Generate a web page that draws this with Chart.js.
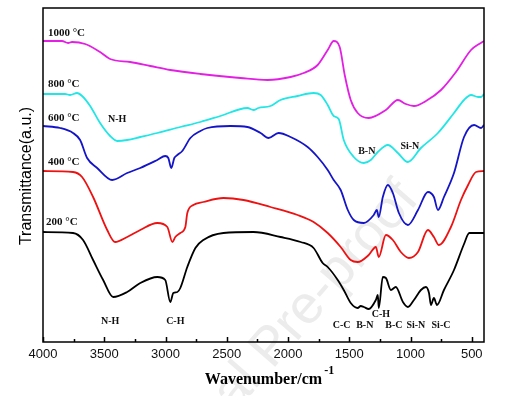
<!DOCTYPE html>
<html>
<head>
<meta charset="utf-8">
<script src="https://cdn.jsdelivr.net/npm/chart.js@4.4.0/dist/chart.umd.min.js"></script>
<style>
  html, body { margin: 0; padding: 0; background: #fff; }
</style>
</head>
<body>
<canvas id="ftir" width="505" height="396"></canvas>
<script>
// FTIR spectra, wavenumber in cm-1, transmittance in a.u. (curves stacked)
var wn200 = [4000,3755,3673,3591,3509,3427,3313,3206,3067,3002,2961,2936,2903,2879,2822,2756,2691,2527,2282,2061,1897,1791,1717,1676,1594,1545,1488,1431,1406,1381,1341,1283,1267,1259,1226,1201,1160,1120,1062,1021,972,915,874,849,833,809,784,727,645,563,520,400];
var t200  = [110,109,102,82,62,45,50,59,65,62,40,49,50,54,75,94,102,109,110,105,100,94,79,75,62,52,39,34,36,35,33,42,47,34,65,64,52,55,40,35,42,52,55,49,37,44,37,52,72,98,109,109];

var wn400 = [4000,3755,3681,3591,3476,3411,3313,3206,3067,2985,2944,2920,2879,2838,2822,2773,2691,2527,2363,2143,1922,1791,1676,1570,1488,1431,1341,1283,1259,1201,1144,1079,1013,939,858,809,768,670,588,530,465,400];
var t400  = [171,170,165,145,112,100,105,112,119,115,100,105,109,115,129,137,140,144,142,135,127,120,109,95,82,80,87,95,85,107,102,90,84,90,112,105,97,115,142,157,170,171];

var wn600 = [4000,3861,3755,3697,3640,3558,3435,3313,3206,3067,3002,2977,2953,2928,2903,2863,2797,2715,2658,2470,2331,2224,2159,2077,1979,1840,1758,1676,1627,1570,1512,1463,1381,1300,1275,1259,1226,1185,1144,1095,1021,939,858,809,776,727,645,563,481,424,400];
var t600  = [216,214,209,202,184,174,162,169,174,182,186,184,174,184,187,191,204,211,214,216,215,209,204,209,205,195,185,172,162,152,132,122,119,127,132,125,145,157,149,129,117,132,150,145,132,145,169,205,217,214,217];

var wn800 = [4000,3820,3779,3722,3681,3615,3534,3452,3394,3313,3206,3067,2879,2715,2552,2331,2282,2241,2143,2061,1922,1791,1733,1676,1627,1586,1545,1463,1381,1324,1267,1185,1103,1021,915,776,645,563,506,448,424,400];
var t800  = [248,248,247,249,246,236,219,206,201,202,205,209,215,220,226,234,232,234,236,242,246,249,247,237,226,223,202,185,179,182,190,197,189,180,194,209,229,242,247,245,245,248];

var wn1000 = [4000,3845,3795,3763,3656,3534,3452,3288,3124,2961,2715,2388,2167,1979,1872,1758,1676,1627,1578,1537,1488,1431,1341,1201,1103,1038,972,874,751,629,506,440,400];
var t1000  = [301,301,299,300,298,290,283,280,276,272,268,264,262,265,269,277,292,301,295,267,242,229,224,232,242,238,236,241,252,270,292,298,301];

var xTicks = [4000,3500,3000,2500,2000,1500,1000,500];
var xMinor = [3750,3250,2750,2250,1750,1250,750];

// curve name labels: [text, wavenumber, transmittance]
var tempLabels = [
  ['1000 \u00b0C', 3960, 309],
  ['800 \u00b0C', 3960, 258],
  ['600 \u00b0C', 3960, 224],
  ['400 \u00b0C', 3960, 180],
  ['200 \u00b0C', 3975, 120]
];
// band assignments: [text, wavenumber, transmittance]
var bandLabels = [
  ['N-H', 3394, 223], ['B-N', 1357, 191], ['Si-N', 1005, 196],
  ['N-H', 3452, 21], ['C-H', 2920, 21],
  ['C-C', 1562, 17], ['B-N', 1373, 17], ['C-H', 1242, 28],
  ['B-C', 1136, 17], ['Si-N', 956, 17], ['Si-C', 751, 17]
];

function pts(w, t) {
  return w.map(function (v, i) { return { x: v, y: t[i] }; });
}

var curves = [
  { name: '200', data: pts(wn200, t200), color: '#000000' },
  { name: '400', data: pts(wn400, t400), color: '#ee1111' },
  { name: '600', data: pts(wn600, t600), color: '#1414c8' },
  { name: '800', data: pts(wn800, t800), color: '#22e6e6' },
  { name: '1000', data: pts(wn1000, t1000), color: '#e21fe2' }
];

var serif = '"Liberation Serif", "Times New Roman", serif';
var sans = '"Liberation Sans", Arial, sans-serif';

var deco = {
  id: 'deco',
  beforeDraw: function (chart) {
    var ctx = chart.ctx;
    ctx.save();
    ctx.fillStyle = '#fff';
    ctx.fillRect(0, 0, chart.width, chart.height);
    // faint watermark
    ctx.translate(420, 200);
    ctx.rotate(-49 * Math.PI / 180);
    ctx.font = '54px ' + sans;
    ctx.fillStyle = '#ececec';
    ctx.textAlign = 'right';
    ctx.textBaseline = 'alphabetic';
    ctx.fillText('Journal Pre-proof', 0, 0);
    ctx.restore();
  },
  afterDraw: function (chart) {
    var ctx = chart.ctx, a = chart.chartArea;
    var xs = chart.scales.x, ys = chart.scales.y;
    ctx.save();
    ctx.strokeStyle = '#000';
    ctx.lineWidth = 1.5;
    ctx.strokeRect(a.left, a.top, a.right - a.left, a.bottom - a.top);
    ctx.beginPath();
    xTicks.forEach(function (v) {
      var x = Math.round(xs.getPixelForValue(v)) + 0.5;
      ctx.moveTo(x, a.bottom); ctx.lineTo(x, a.bottom - 5);
    });
    xMinor.forEach(function (v) {
      var x = Math.round(xs.getPixelForValue(v)) + 0.5;
      ctx.moveTo(x, a.bottom); ctx.lineTo(x, a.bottom - 3);
    });
    ctx.stroke();

    ctx.fillStyle = '#111';
    ctx.textBaseline = 'middle';
    ctx.font = 'bold 11px ' + serif;
    ctx.textAlign = 'left';
    tempLabels.forEach(function (l) {
      ctx.fillText(l[0], xs.getPixelForValue(l[1]), ys.getPixelForValue(l[2]));
    });
    ctx.font = 'bold 10px ' + serif;
    ctx.textAlign = 'center';
    bandLabels.forEach(function (l) {
      ctx.fillText(l[0], xs.getPixelForValue(l[1]), ys.getPixelForValue(l[2]));
    });

    // x title with superscript
    ctx.fillStyle = '#000';
    ctx.textBaseline = 'alphabetic';
    ctx.font = 'bold 16px ' + serif;
    var main = 'Wavenumber/cm';
    var w = ctx.measureText(main).width;
    var cx = (a.left + a.right) / 2;
    ctx.textAlign = 'left';
    ctx.fillText(main, cx - w / 2, 384);
    ctx.font = 'bold 12px ' + serif;
    ctx.fillText('-1', cx + w / 2 + 2, 374);

    // y title
    ctx.translate(31, (a.top + a.bottom) / 2 + 1);
    ctx.rotate(-Math.PI / 2);
    ctx.font = '16px ' + sans;
    ctx.textAlign = 'center';
    ctx.fillText('Transmittance(a.u.)', 0, 0);
    ctx.restore();
  }
};

new Chart(document.getElementById('ftir').getContext('2d'), {
  type: 'line',
  data: {
    datasets: curves.map(function (c) {
      return {
        label: c.name,
        data: c.data,
        borderColor: c.color,
        backgroundColor: c.color,
        borderWidth: 1.8,
        pointRadius: 0,
        fill: false,
        cubicInterpolationMode: 'monotone'
      };
    })
  },
  options: {
    responsive: false,
    animation: false,
    layout: { padding: { left: 43, right: 21, top: 8, bottom: 0 } },
    plugins: { legend: { display: false }, tooltip: { enabled: false } },
    scales: {
      x: {
        type: 'linear',
        reverse: true,
        min: 400,
        max: 4000,
        afterBuildTicks: function (s) {
          s.ticks = xTicks.map(function (v) { return { value: v }; });
        },
        afterFit: function (s) { s.height = 54; },
        grid: { display: false, drawTicks: false },
        border: { display: false },
        ticks: {
          autoSkip: false,
          maxRotation: 0,
          padding: 5,
          color: '#111',
          font: { family: sans, size: 13 },
          callback: function (v) { return String(v); }
        }
      },
      y: { display: false, min: 0, max: 334 }
    }
  },
  plugins: [deco]
});
</script>
</body>
</html>
